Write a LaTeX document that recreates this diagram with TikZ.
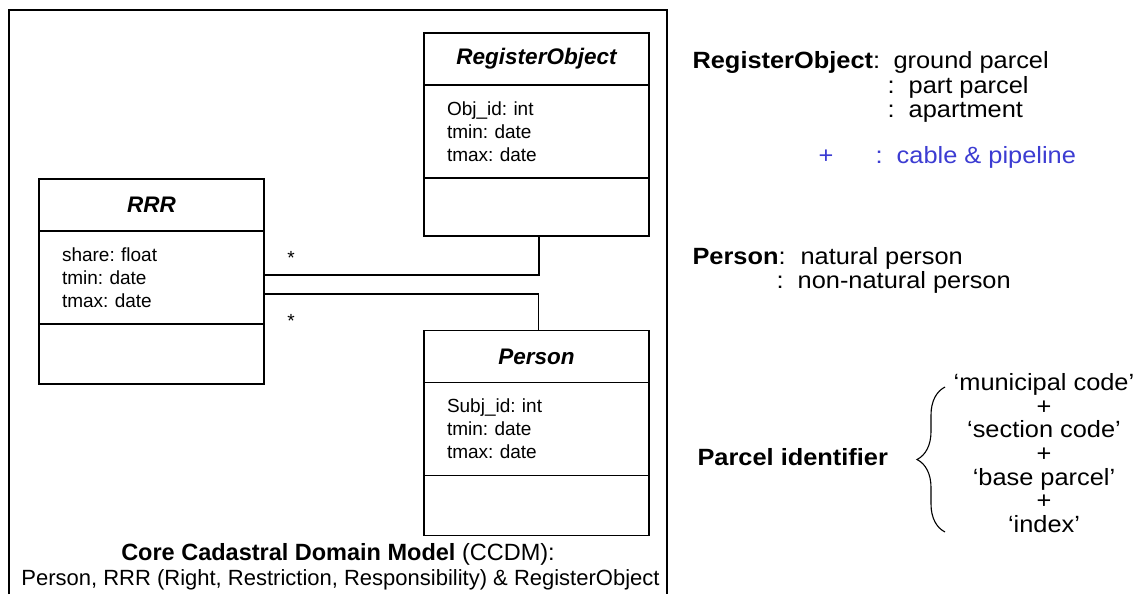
\documentclass[tikz,border=0pt]{standalone}
\usepackage{fontspec}
\setmainfont{Liberation Sans}
\newfontfamily\slidefont[FakeStretch=1.08]{Liberation Sans}
\usetikzlibrary{positioning,decorations.pathreplacing}
\definecolor{addblue}{RGB}{60,60,210}
\newcommand{\attrsize}{\fontsize{19}{23}\selectfont}
\newcommand{\headsize}{\fontsize{22.5}{26}\selectfont}
\newcommand{\slidesize}{\slidefont\fontsize{23.5}{23.7}\selectfont}
\frenchspacing

\begin{document}
\begin{tikzpicture}[x=1pt, y=-1pt, line width=1.1pt,
        umlhead/.style={draw, outer sep=0pt, inner sep=0pt, minimum width=225pt, minimum height=52pt, font=\headsize\bfseries\itshape},
        umlattr/.style={draw, outer sep=0pt, text width=179pt, inner xsep=23pt, inner ysep=0pt, minimum height=93pt, align=left, font=\attrsize},
        umlops/.style={draw, outer sep=0pt, inner sep=0pt, minimum width=225pt, minimum height=60pt},
        mult/.style={font=\attrsize, inner sep=0pt},
        slide/.style={font=\slidesize, inner sep=0pt, anchor=base west}
      ]
      \useasboundingbox (0,0) rectangle (1137,594);
      \draw (9,594) -- (9,10) -- (667,10) -- (667,594);

      % classes
      \node [umlhead] (rohead) at (536.5,59) {RegisterObject};
      \node [umlattr, below=0pt of rohead] (roattr) {Obj\_id: int\\tmin: date\\tmax: date};
      \node [umlops, minimum height=58pt, below=0pt of roattr] (roops) {};

      \node [umlhead] (rrrhead) at (151.5,205) {RRR};
      \node [umlattr, below=0pt of rrrhead] (rrrattr) {share: float\\tmin: date\\tmax: date};
      \node [umlops, below=0pt of rrrattr] (rrrops) {};

      \node [umlhead] (perhead) at (536.5,356.5) {Person};
      \node [umlattr, below=0pt of perhead] (perattr) {Subj\_id: int\\tmin: date\\tmax: date};
      \node [umlops, below=0pt of perattr] (perops) {};

      \draw ([yshift=2.5pt]rrrattr.east) -| ([xshift=2.5pt]roops.south);
      \draw ([yshift=-16.5pt]rrrattr.east) -| ([xshift=2pt]perhead.north);
      \node [mult] (rromult) at (291,258) {*};
      \node [mult] (rrpmult) at (291,321) {*};

      \node [anchor=base, inner sep=0pt, font=\fontsize{23.5}{26}\selectfont] (ccdm) at (338,560)
        {\textbf{Core Cadastral Domain Model} (CCDM):};
      \node [anchor=base, inner sep=0pt, font=\fontsize{22}{26}\selectfont] (ccdmlist) at (340.5,585)
        {Person, RRR (Right, Restriction, Responsibility) \& RegisterObject};

      % right hand notes
      \node [slide] (rolbl) at (692,69) {\textbf{RegisterObject}:};
      \node [slide] (rotype1) at (893,69) {ground parcel};
      \node [slide] (rotype2) at (887,93) {:\ \ part parcel};
      \node [slide] (rotype3) at (887,117) {:\ \ apartment};
      \node [slide, text=addblue] (roplus) at (818,163) {+};
      \node [slide, text=addblue] (rotype4) at (875,163) {:\ \ cable \& pipeline};

      \node [slide] (perlbl) at (692,264) {\textbf{Person}:};
      \node [slide] (pertype1) at (800,264) {natural person};
      \node [slide] (pertype2) at (776,288) {:\ \ non-natural person};

      \node [slide] (pid) at (697,465) {\textbf{Parcel identifier}};
      \node [font=\slidesize, align=center, inner sep=0pt] (pidparts) at (1044,453)
        {‘municipal code’\\+\\‘section code’\\+\\‘base parcel’\\+\\‘index’};
      \coordinate (bracetop) at (945,387);
      \coordinate (bracebot) at (945,532);
      \draw [decorate, decoration={brace, amplitude=28pt}] (bracebot) -- (bracetop);
    \end{tikzpicture}
\end{document}
